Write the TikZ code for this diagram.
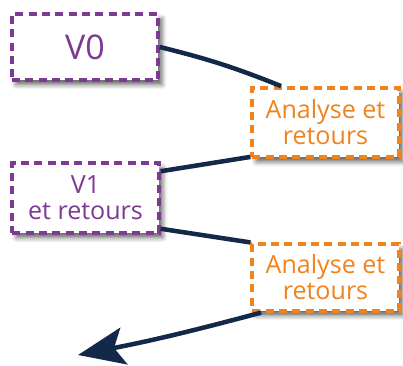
\documentclass[tikz,border=0pt]{standalone}
\usepackage{fontspec}
\setmainfont{Open Sans}
\usetikzlibrary{arrows.meta,shadows.blur,calc}
\definecolor{vpurple}{HTML}{7E3A93}
\definecolor{vorange}{HTML}{F0831E}
\definecolor{vnavy}{HTML}{14294A}
\begin{document}
\begin{tikzpicture}[x=0.75pt,y=-0.75pt,
  boxstyle/.style={draw, line width=2.6pt, dash pattern=on 6pt off 4pt, fill=white,
    align=center, inner sep=0pt,
    blur shadow={shadow xshift=3pt, shadow yshift=-3.5pt, shadow blur radius=3.5pt, shadow opacity=60}},
  vbox/.style={boxstyle, draw=vpurple, text=vpurple},
  abox/.style={boxstyle, draw=vorange, text=vorange},
  link/.style={draw=vnavy, line width=3.4pt},
  txt/.style={font=\fontsize{18.8pt}{19.5pt}\selectfont}]
\useasboundingbox (0,0) rectangle (403,365);
\node[vbox, minimum width=109.5pt, minimum height=49.5pt, font=\fontsize{25.5pt}{27pt}\selectfont] (v0) at (85,47) {V0};
\node[abox, txt, minimum width=110pt, minimum height=52pt] (a1) at (325.5,122.5) {Analyse et\\retours};
\node[vbox, txt, minimum width=110pt, minimum height=52.5pt] (v1) at (85.5,198) {V1\\et retours};
\node[abox, txt, minimum width=110pt, minimum height=50pt] (a2) at (325.5,277.5) {Analyse et\\retours};
\coordinate (tip) at (78,355);
\draw[link] (v0.east) to[bend left=4] ([xshift=23pt]a1.north west);
\draw[link] ([yshift=1.5pt]a1.south west) -- ([yshift=-7.5pt]v1.north east);
\draw[link] ([yshift=4.5pt]v1.south east) -- (a2.north west);
\draw[link, -{Stealth[length=35pt, width=28pt, inset=7.5pt]}] ([xshift=8pt]a2.south west) to[bend left=2] (tip);
\end{tikzpicture}
\end{document}
